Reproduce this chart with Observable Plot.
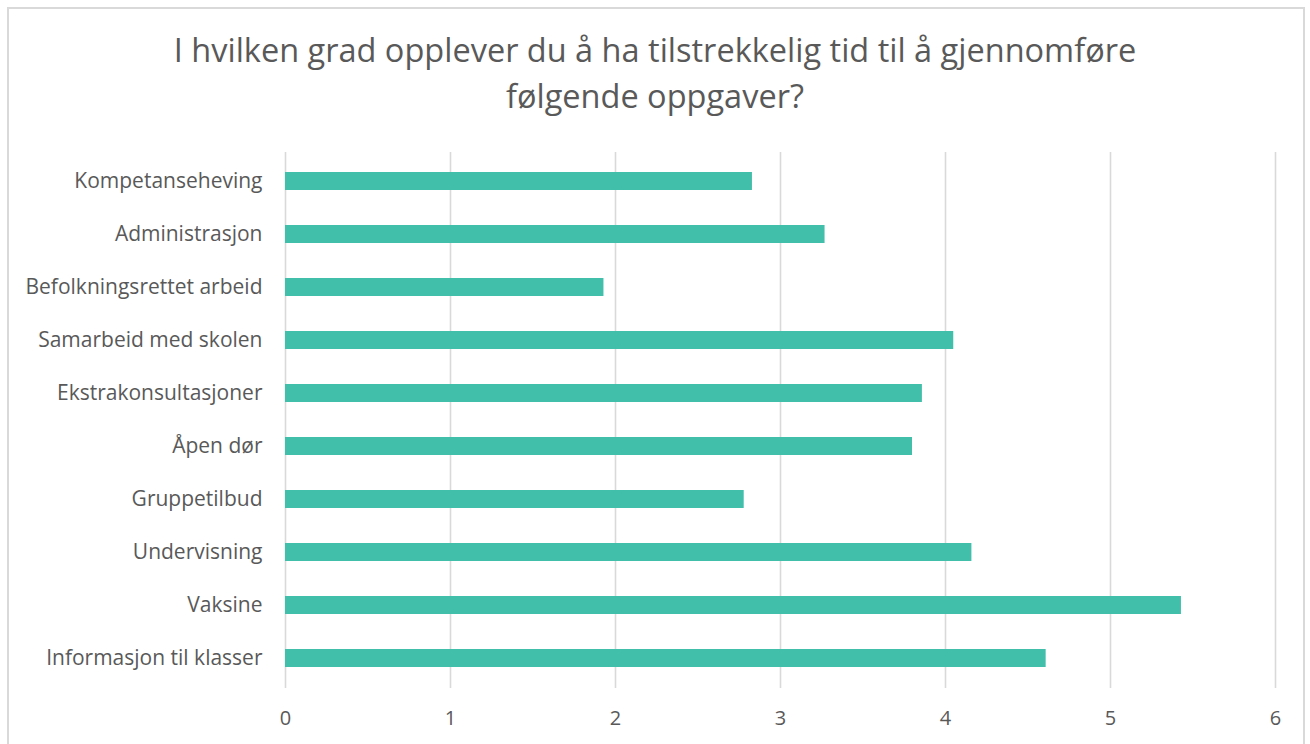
<!DOCTYPE html>
<html>
<head>
<meta charset="utf-8">
<script src="https://cdn.jsdelivr.net/npm/d3@7"></script>
<script src="https://cdn.jsdelivr.net/npm/@observablehq/plot@0.6"></script>
<style>
  html, body { margin: 0; padding: 0; background: #fff; width: 1310px; height: 744px; overflow: hidden; }
  #frame { position: absolute; left: 7px; top: 7px; width: 1298px; height: 760px; border: 2px solid #d9d9d9; box-sizing: border-box; }
  #title { position: absolute; left: 0; top: 27px; width: 1310px; text-align: center; font-family: "Open Sans", sans-serif; font-size: 32.5px; line-height: 46px; color: #595959; }
  #chart { position: absolute; left: 0; top: 140px; }
  #chart svg text { font-family: "Open Sans", sans-serif; }
</style>
</head>
<body>
<div id="frame"></div>
<div id="title">I hvilken grad opplever du å ha tilstrekkelig tid til å gjennomføre<br>følgende oppgaver?</div>
<div id="chart"></div>
<script>
const categories = [
  "Kompetanseheving",
  "Administrasjon",
  "Befolkningsrettet arbeid",
  "Samarbeid med skolen",
  "Ekstrakonsultasjoner",
  "Åpen dør",
  "Gruppetilbud",
  "Undervisning",
  "Vaksine",
  "Informasjon til klasser"
];
const values = [2.83, 3.27, 1.93, 4.05, 3.86, 3.80, 2.78, 4.16, 5.43, 4.61];
const xTicks = [0, 1, 2, 3, 4, 5, 6];

const data = categories.map((c, i) => ({category: c, value: values[i]}));

const chart = Plot.plot({
  width: 1310,
  height: 604,
  marginLeft: 285,
  marginRight: 35,
  marginTop: 12,
  marginBottom: 56,
  style: {fontSize: "21px", color: "#595959", background: "transparent"},
  x: {domain: [0, 6], ticks: xTicks, label: null},
  y: {domain: categories, paddingInner: 0.66, paddingOuter: 0.33, label: null},
  marks: [
    Plot.gridX(xTicks, {stroke: "#d9d9d9", strokeOpacity: 1, strokeWidth: 1.6}),
    Plot.barX(data, {x: "value", y: "category", fill: "#42bfab"}),
    Plot.axisX({ticks: xTicks, tickFormat: d => String(d), tickSize: 0, tickPadding: 22, fontSize: 20, label: null}),
    Plot.axisY({tickSize: 0, tickPadding: 23, fontSize: 21, label: null})
  ]
});
document.getElementById("chart").appendChild(chart);
</script>
</body>
</html>
